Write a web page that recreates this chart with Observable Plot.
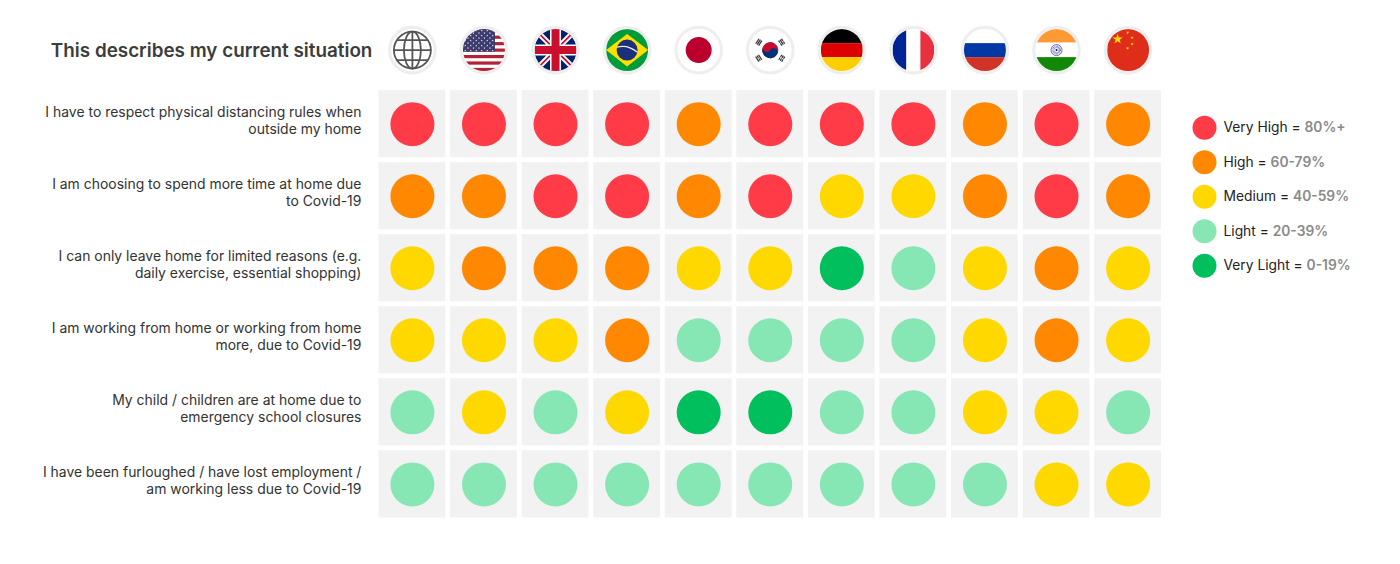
<!DOCTYPE html>
<html><head><meta charset="utf-8">
<script src="https://cdn.jsdelivr.net/npm/d3@7"></script>
<script src="https://cdn.jsdelivr.net/npm/@observablehq/plot@0.6"></script>
<style>
html,body{margin:0;padding:0;background:#fff}
#chart{position:relative;width:1400px;height:564px;overflow:hidden}
#chart svg{display:block;background:transparent}
#legend{position:absolute;left:1180px;top:109.5px}
</style></head><body><div id="chart"><div id="main"></div><div id="legend"></div></div>
<script>
const countries = ["Global","USA","UK","Brazil","Japan","South Korea","Germany","France","Russia","India","China"];
const statements = [
 "I have to respect physical distancing rules when\noutside my home",
 "I am choosing to spend more time at home due\nto Covid-19",
 "I can only leave home for limited reasons (e.g.\ndaily exercise, essential shopping)",
 "I am working from home or working from home\nmore, due to Covid-19",
 "My child / children are at home due to\nemergency school closures",
 "I have been furloughed / have lost employment /\nam working less due to Covid-19"
];
const levels = ["Very High","High","Medium","Light","Very Light"];
const ranges = ["80%+","60-79%","40-59%","20-39%","0-19%"];
const levelColors = ["#ff3b47","#ff8800","#ffd800","#86e6b4","#00bf5c"];
const row1 = ["Very High","Very High","Very High","Very High","High","Very High","Very High","Very High","High","Very High","High"];
const row2 = ["High","High","Very High","Very High","High","Very High","Medium","Medium","High","Very High","High"];
const row3 = ["Medium","High","High","High","Medium","Medium","Very Light","Light","Medium","High","Medium"];
const row4 = ["Medium","Medium","Medium","High","Light","Light","Light","Light","Medium","High","Medium"];
const row5 = ["Light","Medium","Light","Medium","Very Light","Very Light","Light","Light","Medium","Medium","Light"];
const row6 = ["Light","Light","Light","Light","Light","Light","Light","Light","Light","Medium","Medium"];
const title = "This describes my current situation";
const rows = [row1,row2,row3,row4,row5,row6];
const HEADER = "header";
const table = rows.flatMap((r,i)=>r.map((level,j)=>({statement:statements[i],country:countries[j],level})));

// flag icons (decorative artwork, 84x84 viewBox)
function star(cx,cy,r,rot=0){let p=[];for(let i=0;i<10;i++){const a=rot-Math.PI/2+i*Math.PI/5,q=i%2?r*0.382:r;p.push((cx+q*Math.cos(a)).toFixed(2)+","+(cy+q*Math.sin(a)).toFixed(2));}return `<polygon points="${p.join(" ")}"/>`;}
const usStripes=d3.range(0,13,2).map(i=>`<rect y="${i*84/13}" width="84" height="${84/13}" fill="#b22234"/>`).join("");
let usStars="";for(let r=0;r<9;r++)for(let c=0;c<(r%2?5:6);c++)usStars+=star((r%2?10:4.5)+c*11,3+r*5,2.1);
let tri=(x,y,rot,pattern)=>`<g transform="translate(${x} ${y}) rotate(${rot}) scale(.75)" fill="#333">`+pattern.map((b,i)=>b?`<rect x="-8" y="${-6+i*4.6}" width="16" height="3.2"/>`:`<rect x="-8" y="${-6+i*4.6}" width="7" height="3.2"/><rect x="1" y="${-6+i*4.6}" width="7" height="3.2"/>`).join("")+`</g>`;
const flags={
 "Global":`<rect width="84" height="84" fill="#fff"/><g fill="none" stroke="#555" stroke-width="3.6"><circle cx="42" cy="42" r="37"/><ellipse cx="42" cy="42" rx="17" ry="37"/><path d="M42 5V79M5 42H79M11 22H73M11 62H73"/></g>`,
 "USA":`<rect width="84" height="84" fill="#fff"/>${usStripes}<rect width="64" height="45" fill="#3c3b6e"/><g fill="#fff">${usStars}</g>`,
 "UK":`<rect width="84" height="84" fill="#012169"/><path d="M0 0L84 84M84 0L0 84" stroke="#fff" stroke-width="11"/><path d="M0 0L84 84M84 0L0 84" stroke="#c8102e" stroke-width="3.5"/><path d="M42 0V84M0 42H84" stroke="#fff" stroke-width="22"/><path d="M42 0V84M0 42H84" stroke="#c8102e" stroke-width="16"/>`,
 "Brazil":`<rect width="84" height="84" fill="#009c3b"/><polygon points="42,10 84,42 42,75 0,42" fill="#ffdf00"/><circle cx="42" cy="42" r="21" fill="#1b2f7a"/><path d="M22 36C36 32 50 36 62 46" fill="none" stroke="#e8eef0" stroke-width="2.6"/>`,
 "Japan":`<rect width="84" height="84" fill="#fff"/><circle cx="42" cy="42" r="26" fill="#bc002d"/>`,
 "South Korea":`<rect width="84" height="84" fill="#fff"/><g transform="rotate(33 42 42)"><circle cx="42" cy="42" r="16" fill="#c60c30"/><path d="M26 42A16 16 0 0 0 58 42A8 8 0 0 0 42 42A8 8 0 0 1 26 42" fill="#003478"/></g>${tri(19,26,-57,[1,1,1])}${tri(65,26,57,[0,1,0])}${tri(19,58,57,[1,0,1])}${tri(65,58,-57,[0,0,0])}`,
 "Germany":`<rect width="84" height="28" fill="#000"/><rect y="28" width="84" height="28" fill="#dd0000"/><rect y="56" width="84" height="28" fill="#ffce00"/>`,
 "France":`<rect width="28" height="84" fill="#002395"/><rect x="28" width="28" height="84" fill="#fff"/><rect x="56" width="28" height="84" fill="#e8303f"/>`,
 "Russia":`<rect width="84" height="28" fill="#fff"/><rect y="28" width="84" height="28" fill="#0039a6"/><rect y="56" width="84" height="28" fill="#d03428"/>`,
 "India":`<rect width="84" height="27" fill="#ff9933"/><rect y="27" width="84" height="29" fill="#fff"/><rect y="56" width="84" height="28" fill="#138808"/><circle cx="42" cy="42" r="11" fill="none" stroke="#000080" stroke-width="1.4" opacity=".8"/><circle cx="42" cy="42" r="6.5" fill="none" stroke="#000080" stroke-width="5" stroke-dasharray="1.2 1.2" opacity=".6"/><circle cx="42" cy="42" r="2" fill="#000080"/>`,
 "China":`<rect width="84" height="84" fill="#de2d18"/><g fill="#ffde00">${star(21,20,11)}${star(41,7,3.6,.5)}${star(50,17,3.6,1)}${star(50,30,3.6,0)}${star(41,38,3.6,.5)}</g>`
};
const flagSrc=c=>"data:image/svg+xml;utf8,"+encodeURIComponent(`<svg xmlns="http://www.w3.org/2000/svg" viewBox="0 0 84 84" width="84" height="84">${flags[c]}</svg>`);

const bodyFont="Inter, sans-serif";
const main=Plot.plot({
 width:1400,height:564,margin:0,
 style:{background:"transparent",fontFamily:bodyFont},
 x:{type:"band",domain:countries,range:[378.5,1161],paddingInner:0.0667,paddingOuter:0,round:false,axis:null},
 y:{type:"band",domain:[HEADER,...statements],range:[18,517.5],paddingInner:0.0667,paddingOuter:0,round:false,axis:null},
 color:{type:"ordinal",domain:levels,range:levelColors},
 marks:[
  Plot.cell(table,{x:"country",y:"statement",fill:"#f2f2f2"}),
  Plot.dot(table,{x:"country",y:"statement",r:22,fill:"level"}),
  Plot.dot(countries,{x:d=>d,y:()=>HEADER,r:22.8,fill:"#fff",stroke:"#eeeeee",strokeWidth:3,dy:-2}),
  Plot.image(countries,{x:d=>d,y:()=>HEADER,r:21,src:flagSrc,dy:-2}),
  Plot.text(statements,{x:()=>countries[0],y:d=>d,text:d=>d,dx:-51,dy:-4.5,textAnchor:"end",fontSize:13.95,lineHeight:1.25,fill:"#333"}),
  Plot.text([title],{x:()=>countries[0],y:()=>HEADER,text:d=>d,dx:-40,dy:-1,textAnchor:"end",fontSize:18.85,fontWeight:600,fill:"#3c3c3c"})
 ]
});
document.getElementById("main").append(main);

const legend=Plot.plot({
 width:200,height:173,margin:0,
 style:{background:"transparent",fontFamily:bodyFont},
 x:{axis:null,domain:[0,1],range:[0,200]},
 y:{type:"band",domain:levels,range:[0,172.5],padding:0,round:false,axis:null},
 color:{type:"ordinal",domain:levels,range:levelColors},
 marks:[
  Plot.dot(levels,{frameAnchor:"left",y:d=>d,r:12,fill:d=>d,dx:24}),
  Plot.text(levels,{frameAnchor:"left",y:d=>d,text:(d,i)=>`${d} = |${ranges[i]}`,dx:43,textAnchor:"start",fontSize:13.8,fill:"#222"})
 ]
});
d3.select(legend).selectAll("text").each(function(){
 const [a,b]=this.textContent.split("|");
 const t=d3.select(this);t.text(null);
 t.append("tspan").text(a);
 t.append("tspan").attr("fill","#8a8a8a").attr("font-weight",600).text(b);
});
document.getElementById("legend").append(legend);
</script></body></html>
